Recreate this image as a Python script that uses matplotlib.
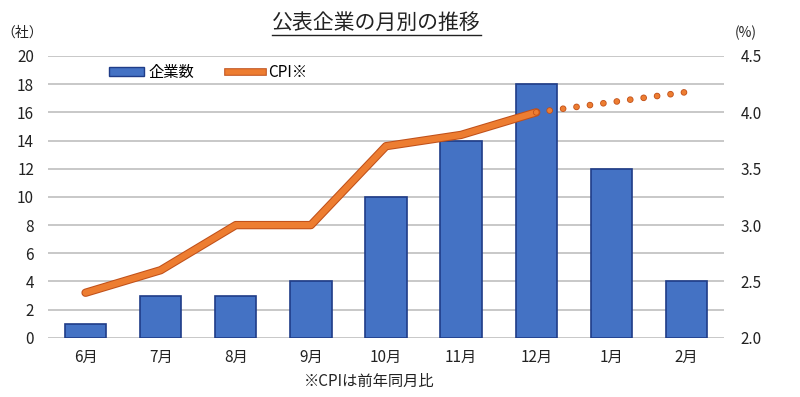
import matplotlib
matplotlib.use('Agg')
import matplotlib.pyplot as plt
import matplotlib.patheffects as pe
from matplotlib.lines import Line2D
from matplotlib.patches import Patch

plt.rcParams['font.family'] = ['Noto Sans CJK JP', 'DejaVu Sans']

# データ
months = ['6月', '7月', '8月', '9月', '10月', '11月', '12月', '1月', '2月']
companies = [1, 3, 3, 4, 10, 14, 18, 12, 4]
cpi = [2.4, 2.6, 3.0, 3.0, 3.7, 3.8, 4.0]
cpi_trend = [4.0, 4.09, 4.18]

fig = plt.figure(figsize=(8, 3.97), dpi=100)
ax = fig.add_axes([0.06, 0.149, 0.845, 0.71])
ax2 = ax.twinx()

x = list(range(len(months)))
ax.bar(x, companies, width=0.55, color='#4472C4', edgecolor='#1F3C88', linewidth=1.2, zorder=2)

ax.set_ylim(0, 20)
ax.set_yticks(range(0, 21, 2))
ax.set_xlim(-0.5, len(months) - 0.5)
ax.set_xticks(x)
ax.set_xticklabels(months)
ax.grid(axis='y', color='#BFBFBF', linewidth=1.2, zorder=0)
ax.set_axisbelow(True)

ax2.set_ylim(2.0, 4.5)
ax2.set_yticks([2.0, 2.5, 3.0, 3.5, 4.0, 4.5])
ax2.set_yticklabels(['2.0', '2.5', '3.0', '3.5', '4.0', '4.5'])

ax2.plot(x[:len(cpi)], cpi, color='#ED7D31', linewidth=4.5, solid_capstyle='round',
         path_effects=[pe.Stroke(linewidth=6, foreground='#C0501A'), pe.Normal()], zorder=3)
ax2.plot(x[len(cpi) - 1:], cpi_trend, color='#ED7D31', linestyle=(0, (0.01, 2.7)),
         linewidth=3.6, dash_capstyle='round',
         path_effects=[pe.Stroke(linewidth=4.8, foreground='#C0501A'), pe.Normal()], zorder=3)

for a in (ax, ax2):
    for s in a.spines.values():
        s.set_visible(False)
    a.tick_params(length=0, labelsize=11, colors='#222222')
ax.tick_params(axis='x', pad=8)
ax.tick_params(axis='y', pad=10)
ax2.tick_params(axis='y', pad=12)

fig.text(0.47, 0.942, '公表企業の月別の推移', ha='center', va='center', fontsize=15, color='#222222')
fig.add_artist(Line2D([0.34, 0.601], [0.912, 0.912], color='#222222', linewidth=1))
fig.text(0.028, 0.918, '（社）', ha='center', va='center', fontsize=10, color='#222222')
fig.text(0.932, 0.918, '(%)', ha='center', va='center', fontsize=10, color='#222222')
fig.text(0.462, 0.04, '※CPIは前年同月比', ha='center', va='center', fontsize=11, color='#222222')

handles = [Patch(facecolor='#4472C4', edgecolor='#1F3C88'),
           Line2D([0], [0], color='#ED7D31', linewidth=4,
                  path_effects=[pe.Stroke(linewidth=5.5, foreground='#C0501A'), pe.Normal()])]
ax.legend(handles, ['企業数', 'CPI※'], loc='upper left', bbox_to_anchor=(0.07, 1.02), ncol=2,
          frameon=False, fontsize=11, handlelength=2.3, handleheight=0.5, columnspacing=2.2,
          handletextpad=0.3)

fig.savefig('out.png', dpi=100)
